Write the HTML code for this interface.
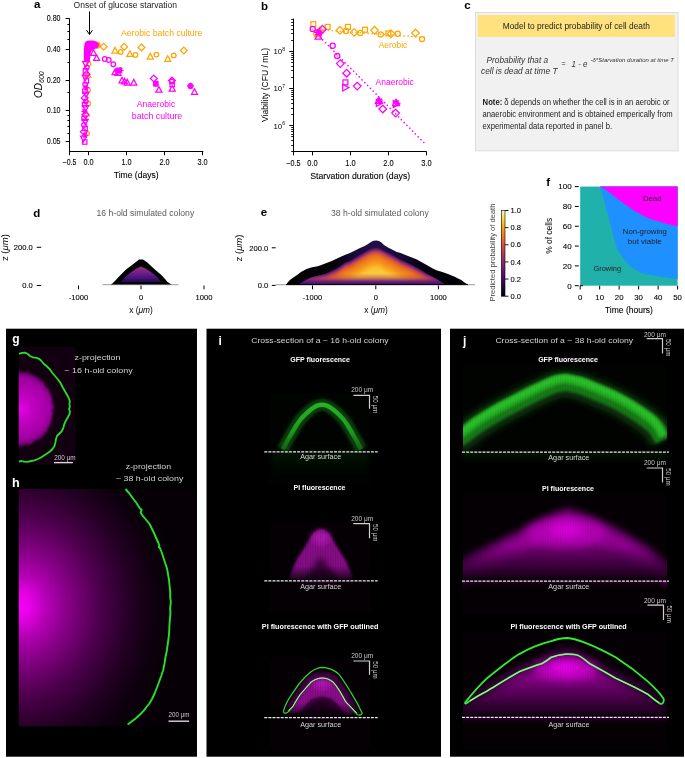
<!DOCTYPE html><html><head><meta charset="utf-8"><style>html,body{margin:0;padding:0;background:#fff;}body{width:685px;height:758px;overflow:hidden;position:relative;}svg{position:absolute;left:0;top:0;display:block;will-change:transform;}text{font-family:"Liberation Sans",sans-serif;}text.k{stroke:#000;stroke-width:0.1px;}</style></head><body>
<svg width="685" height="758" viewBox="0 0 685 758">
<defs>
<linearGradient id="infernoV" x1="0" y1="1" x2="0" y2="0">
<stop offset="0" stop-color="#000004"/><stop offset="0.2" stop-color="#320a5e"/><stop offset="0.4" stop-color="#781c6d"/><stop offset="0.6" stop-color="#bb3754"/><stop offset="0.8" stop-color="#ed6925"/><stop offset="0.9" stop-color="#fbb61a"/><stop offset="1" stop-color="#fcffa4"/>
</linearGradient>
<linearGradient id="dpurp" x1="0" y1="0" x2="0" y2="1">
<stop offset="0" stop-color="#a02c78"/><stop offset="0.2" stop-color="#8c2682"/><stop offset="0.55" stop-color="#5c1888"/><stop offset="0.85" stop-color="#301060"/><stop offset="1" stop-color="#180a34"/>
</linearGradient>
<filter id="blur1" x="-20%" y="-20%" width="140%" height="140%"><feGaussianBlur stdDeviation="1.2"/></filter>
<filter id="blur2" x="-20%" y="-20%" width="140%" height="140%"><feGaussianBlur stdDeviation="2.5"/></filter>
<filter id="blur3" x="-30%" y="-30%" width="160%" height="160%"><feGaussianBlur stdDeviation="4"/></filter>
<filter id="blurE" x="-10%" y="-30%" width="120%" height="160%"><feGaussianBlur stdDeviation="0.9"/></filter>
<filter id="blurS" x="-10%" y="-10%" width="120%" height="120%"><feGaussianBlur stdDeviation="0.5"/></filter>
<radialGradient id="gmag16" cx="0" cy="0.5" r="0.62" fx="0" fy="0.5">
<stop offset="0" stop-color="#ff00ff" stop-opacity="0.95"/><stop offset="0.5" stop-color="#c000c0" stop-opacity="0.75"/><stop offset="0.85" stop-color="#800080" stop-opacity="0.6"/><stop offset="1" stop-color="#400040" stop-opacity="0"/>
</radialGradient>
<radialGradient id="gmag38" gradientUnits="userSpaceOnUse" cx="19" cy="606" r="165">
<stop offset="0" stop-color="#ff00ff"/><stop offset="0.15" stop-color="#c010c0"/><stop offset="0.45" stop-color="#6a0a6a"/><stop offset="0.75" stop-color="#2a002a"/><stop offset="1" stop-color="#0a000a"/>
</radialGradient>
</defs>
<text x="34" y="8.3" font-size="11.5" text-anchor="start" fill="#000" font-weight="bold" font-style="normal">a</text>
<text x="73.6" y="7.6" font-size="8.5" text-anchor="start" fill="#222" font-weight="normal" font-style="normal" textLength="103.4" lengthAdjust="spacingAndGlyphs">Onset of glucose starvation</text>
<line x1="89.5" y1="11.5" x2="89.5" y2="34" stroke="#000" stroke-width="1"/>
<path d="M86.6,30.2L89.5,34.5L92.4,30.2" fill="none" stroke="#000" stroke-width="1"/>
<line x1="69.5" y1="18.4" x2="69.5" y2="152" stroke="#000" stroke-width="1"/>
<line x1="69" y1="151.5" x2="203.3" y2="151.5" stroke="#000" stroke-width="1"/>
<line x1="65.6" y1="18.5" x2="69.5" y2="18.5" stroke="#000" stroke-width="1"/>
<text class="k" x="60.6" y="21.4" font-size="8.4" text-anchor="end" fill="#000" font-weight="normal" font-style="normal" textLength="13.9" lengthAdjust="spacingAndGlyphs">0.80</text>
<line x1="65.6" y1="49.5" x2="69.5" y2="49.5" stroke="#000" stroke-width="1"/>
<text class="k" x="60.6" y="52.4" font-size="8.4" text-anchor="end" fill="#000" font-weight="normal" font-style="normal" textLength="13.9" lengthAdjust="spacingAndGlyphs">0.40</text>
<line x1="65.6" y1="80.5" x2="69.5" y2="80.5" stroke="#000" stroke-width="1"/>
<text class="k" x="60.6" y="83.4" font-size="8.4" text-anchor="end" fill="#000" font-weight="normal" font-style="normal" textLength="13.9" lengthAdjust="spacingAndGlyphs">0.20</text>
<line x1="65.6" y1="110.5" x2="69.5" y2="110.5" stroke="#000" stroke-width="1"/>
<text class="k" x="60.6" y="113.4" font-size="8.4" text-anchor="end" fill="#000" font-weight="normal" font-style="normal" textLength="13.9" lengthAdjust="spacingAndGlyphs">0.10</text>
<line x1="65.6" y1="141.5" x2="69.5" y2="141.5" stroke="#000" stroke-width="1"/>
<text class="k" x="60.6" y="144.4" font-size="8.4" text-anchor="end" fill="#000" font-weight="normal" font-style="normal" textLength="13.9" lengthAdjust="spacingAndGlyphs">0.05</text>
<line x1="67.4" y1="24.5" x2="69.5" y2="24.5" stroke="#000" stroke-width="1"/>
<line x1="67.4" y1="31.5" x2="69.5" y2="31.5" stroke="#000" stroke-width="1"/>
<line x1="67.4" y1="39.5" x2="69.5" y2="39.5" stroke="#000" stroke-width="1"/>
<line x1="67.4" y1="62.5" x2="69.5" y2="62.5" stroke="#000" stroke-width="1"/>
<line x1="67.4" y1="115.5" x2="69.5" y2="115.5" stroke="#000" stroke-width="1"/>
<line x1="67.4" y1="120.5" x2="69.5" y2="120.5" stroke="#000" stroke-width="1"/>
<line x1="67.4" y1="126.5" x2="69.5" y2="126.5" stroke="#000" stroke-width="1"/>
<line x1="67.4" y1="133.5" x2="69.5" y2="133.5" stroke="#000" stroke-width="1"/>
<line x1="67.4" y1="92.5" x2="69.5" y2="92.5" stroke="#000" stroke-width="1"/>
<line x1="69.5" y1="151.5" x2="69.5" y2="155.2" stroke="#000" stroke-width="1"/>
<text class="k" x="69.5" y="165.4" font-size="8.4" text-anchor="middle" fill="#000" font-weight="normal" font-style="normal" textLength="13.7" lengthAdjust="spacingAndGlyphs">−0.5</text>
<line x1="88.5" y1="151.5" x2="88.5" y2="155.2" stroke="#000" stroke-width="1"/>
<text class="k" x="88.5" y="165.4" font-size="8.4" text-anchor="middle" fill="#000" font-weight="normal" font-style="normal" textLength="10.2" lengthAdjust="spacingAndGlyphs">0.0</text>
<line x1="126.5" y1="151.5" x2="126.5" y2="155.2" stroke="#000" stroke-width="1"/>
<text class="k" x="126.5" y="165.4" font-size="8.4" text-anchor="middle" fill="#000" font-weight="normal" font-style="normal" textLength="10.2" lengthAdjust="spacingAndGlyphs">1.0</text>
<line x1="164.5" y1="151.5" x2="164.5" y2="155.2" stroke="#000" stroke-width="1"/>
<text class="k" x="164.5" y="165.4" font-size="8.4" text-anchor="middle" fill="#000" font-weight="normal" font-style="normal" textLength="10.2" lengthAdjust="spacingAndGlyphs">2.0</text>
<line x1="202.5" y1="151.5" x2="202.5" y2="155.2" stroke="#000" stroke-width="1"/>
<text class="k" x="202.5" y="165.4" font-size="8.4" text-anchor="middle" fill="#000" font-weight="normal" font-style="normal" textLength="10.2" lengthAdjust="spacingAndGlyphs">3.0</text>
<text class="k" x="136.2" y="177.9" font-size="8.4" text-anchor="middle" fill="#000" font-weight="normal" font-style="normal" textLength="44.9" lengthAdjust="spacingAndGlyphs">Time (days)</text>
<text transform="translate(41.5,98) rotate(-90)" font-size="10" font-style="italic" fill="#000">OD<tspan font-size="7" dy="2.5">600</tspan></text>
<text x="121" y="36.4" font-size="8.5" text-anchor="start" fill="#ffa500" font-weight="normal" font-style="normal" textLength="81.4" lengthAdjust="spacingAndGlyphs">Aerobic batch culture</text>
<text x="156" y="107" font-size="8.5" text-anchor="middle" fill="#ff00ff" font-weight="normal" font-style="normal" textLength="38.6" lengthAdjust="spacingAndGlyphs">Anaerobic</text>
<text x="157" y="118.6" font-size="8.5" text-anchor="middle" fill="#ff00ff" font-weight="normal" font-style="normal" textLength="50.5" lengthAdjust="spacingAndGlyphs">batch culture</text>
<path d="M103.7,43.40L107.10,46.8L103.7,50.20L100.30,46.8Z" fill="none" stroke="#ffa500" stroke-width="1.25"/>
<path d="M115,47.40L118.00,53.00L112.00,53.00Z" fill="none" stroke="#ffa500" stroke-width="1.25"/>
<circle cx="120.7" cy="51.9" r="2.30" fill="none" stroke="#ffa500" stroke-width="1.25"/>
<path d="M124.2,43.40L127.60,46.8L124.2,50.20L120.80,46.8Z" fill="none" stroke="#ffa500" stroke-width="1.25"/>
<path d="M129.9,50.80L132.90,56.40L126.90,56.40Z" fill="none" stroke="#ffa500" stroke-width="1.25"/>
<circle cx="135.4" cy="55" r="2.30" fill="none" stroke="#ffa500" stroke-width="1.25"/>
<path d="M141.5,44.00L144.90,47.4L141.5,50.80L138.10,47.4Z" fill="none" stroke="#ffa500" stroke-width="1.25"/>
<path d="M150.3,53.40L153.30,59.00L147.30,59.00Z" fill="none" stroke="#ffa500" stroke-width="1.25"/>
<circle cx="156.4" cy="54.6" r="2.30" fill="none" stroke="#ffa500" stroke-width="1.25"/>
<path d="M167.7,55.80L170.70,61.40L164.70,61.40Z" fill="none" stroke="#ffa500" stroke-width="1.25"/>
<circle cx="173.8" cy="55.4" r="2.30" fill="none" stroke="#ffa500" stroke-width="1.25"/>
<path d="M183.8,47.10L187.20,50.5L183.8,53.90L180.40,50.5Z" fill="none" stroke="#ffa500" stroke-width="1.25"/>
<circle cx="94.5" cy="43.7" r="2.30" fill="none" stroke="#ffa500" stroke-width="1.25"/>
<circle cx="97.6" cy="45.8" r="2.30" fill="none" stroke="#ffa500" stroke-width="1.25"/>
<path d="M92,41.60L95.40,45L92,48.40L88.60,45Z" fill="none" stroke="#ffa500" stroke-width="1.25"/>
<circle cx="88.5" cy="64" r="2.30" fill="none" stroke="#ffa500" stroke-width="1.25"/>
<path d="M87.8,71.80L90.80,77.40L84.80,77.40Z" fill="none" stroke="#ffa500" stroke-width="1.25"/>
<circle cx="88" cy="90" r="2.30" fill="none" stroke="#ffa500" stroke-width="1.25"/>
<circle cx="88.2" cy="103.5" r="2.30" fill="none" stroke="#ffa500" stroke-width="1.25"/>
<path d="M86.3,110.20L89.30,115.80L83.30,115.80Z" fill="none" stroke="#ffa500" stroke-width="1.25"/>
<circle cx="87" cy="133.5" r="2.30" fill="none" stroke="#ffa500" stroke-width="1.25"/>
<path d="M89,46.60L92.40,50L89,53.40L85.60,50Z" fill="none" stroke="#ffa500" stroke-width="1.25"/>
<circle cx="93" cy="43.5" r="2.30" fill="none" stroke="#ffa500" stroke-width="1.25"/>
<circle cx="97.5" cy="44.5" r="2.30" fill="none" stroke="#ffa500" stroke-width="1.25"/>
<path d="M93.5,49.70L96.50,55.30L90.50,55.30Z" fill="none" stroke="#ff00ff" stroke-width="1.25"/>
<path d="M96.6,54.80L99.60,60.40L93.60,60.40Z" fill="none" stroke="#ff00ff" stroke-width="1.25"/>
<circle cx="104.7" cy="59" r="2.30" fill="none" stroke="#ff00ff" stroke-width="1.25"/>
<circle cx="108.8" cy="60" r="2.30" fill="none" stroke="#ff00ff" stroke-width="1.25"/>
<circle cx="113.3" cy="64.2" r="2.30" fill="none" stroke="#ff00ff" stroke-width="1.25"/>
<path d="M115,69.10L118.00,74.70L112.00,74.70Z" fill="none" stroke="#ff00ff" stroke-width="1.25"/>
<rect x="116.80" y="68.10" width="4.40" height="4.40" fill="none" stroke="#ff00ff" stroke-width="1.25"/>
<path d="M117.50,70.3L123.50,70.3M118.70,67.90L122.30,72.70M118.70,72.70L122.30,67.90M120.5,67.30L120.5,73.30" fill="none" stroke="#ff00ff" stroke-width="1.25"/>
<path d="M118,69.80L121.00,75.40L115.00,75.40Z" fill="none" stroke="#ff00ff" stroke-width="1.25"/>
<path d="M114.00,71L120.00,71M115.20,68.60L118.80,73.40M115.20,73.40L118.80,68.60M117,68.00L117,74.00" fill="none" stroke="#ff00ff" stroke-width="1.25"/>
<path d="M122,77.30L125.00,82.90L119.00,82.90Z" fill="none" stroke="#ff00ff" stroke-width="1.25"/>
<path d="M124.5,78.30L127.50,83.90L121.50,83.90Z" fill="none" stroke="#ff00ff" stroke-width="1.25"/>
<path d="M127.2,79.40L130.20,85.00L124.20,85.00Z" fill="none" stroke="#ff00ff" stroke-width="1.25"/>
<path d="M133.8,79.40L136.80,85.00L130.80,85.00Z" fill="none" stroke="#ff00ff" stroke-width="1.25"/>
<path d="M153.8,75.10L157.20,78.5L153.8,81.90L150.40,78.5Z" fill="none" stroke="#ff00ff" stroke-width="1.25"/>
<rect x="153.60" y="81.40" width="4.40" height="4.40" fill="none" stroke="#ff00ff" stroke-width="1.25"/>
<path d="M152.80,84L158.80,84M154.00,81.60L157.60,86.40M154.00,86.40L157.60,81.60M155.8,81.00L155.8,87.00" fill="none" stroke="#ff00ff" stroke-width="1.25"/>
<path d="M158.9,86.50L161.90,92.10L155.90,92.10Z" fill="none" stroke="#ff00ff" stroke-width="1.25"/>
<polygon points="171.80,78.80 174.37,80.67 173.39,83.68 170.21,83.68 169.23,80.67" fill="none" stroke="#ff00ff" stroke-width="1.25"/>
<path d="M172,77.10L175.40,80.5L172,83.90L168.60,80.5Z" fill="none" stroke="#ff00ff" stroke-width="1.25"/>
<rect x="170.00" y="82.40" width="4.40" height="4.40" fill="none" stroke="#ff00ff" stroke-width="1.25"/>
<path d="M172.2,85.50L175.20,91.10L169.20,91.10Z" fill="none" stroke="#ff00ff" stroke-width="1.25"/>
<path d="M187.50,86L193.50,86M188.70,83.60L192.30,88.40M188.70,88.40L192.30,83.60M190.5,83.00L190.5,89.00" fill="none" stroke="#ff00ff" stroke-width="1.25"/>
<polygon points="190.50,83.30 193.07,85.17 192.09,88.18 188.91,88.18 187.93,85.17" fill="none" stroke="#ff00ff" stroke-width="1.25"/>
<path d="M194.5,88.70L197.50,94.30L191.50,94.30Z" fill="none" stroke="#ff00ff" stroke-width="1.25"/>
<rect x="82.50" y="139.80" width="4.40" height="4.40" fill="none" stroke="#ff00ff" stroke-width="1.25"/>
<path d="M83.59,141.81L86.59,136.21L80.59,136.21Z" fill="none" stroke="#ff00ff" stroke-width="1.25"/>
<path d="M81.89,135.22L87.89,135.22M83.09,132.82L86.69,137.62M83.09,137.62L86.69,132.82M84.89,132.22L84.89,138.22" fill="none" stroke="#ff00ff" stroke-width="1.25"/>
<path d="M83.78,128.43L87.18,131.83L83.78,135.23L80.38,131.83Z" fill="none" stroke="#ff00ff" stroke-width="1.25"/>
<rect x="82.88" y="126.23" width="4.40" height="4.40" fill="none" stroke="#ff00ff" stroke-width="1.25"/>
<circle cx="83.97" cy="125.04" r="2.30" fill="none" stroke="#ff00ff" stroke-width="1.25"/>
<path d="M85.27,124.85L88.27,119.25L82.27,119.25Z" fill="none" stroke="#ff00ff" stroke-width="1.25"/>
<rect x="81.96" y="116.06" width="4.40" height="4.40" fill="none" stroke="#ff00ff" stroke-width="1.25"/>
<path d="M85.46,111.47L88.86,114.87L85.46,118.27L82.06,114.87Z" fill="none" stroke="#ff00ff" stroke-width="1.25"/>
<path d="M81.35,111.48L87.35,111.48M82.55,109.08L86.15,113.88M82.55,113.88L86.15,109.08M84.35,108.48L84.35,114.48" fill="none" stroke="#ff00ff" stroke-width="1.25"/>
<path d="M85.65,111.29L88.65,105.69L82.65,105.69Z" fill="none" stroke="#ff00ff" stroke-width="1.25"/>
<rect x="82.34" y="102.50" width="4.40" height="4.40" fill="none" stroke="#ff00ff" stroke-width="1.25"/>
<circle cx="85.84" cy="101.3" r="2.30" fill="none" stroke="#ff00ff" stroke-width="1.25"/>
<path d="M84.73,94.51L88.13,97.91L84.73,101.31L81.33,97.91Z" fill="none" stroke="#ff00ff" stroke-width="1.25"/>
<path d="M86.03,97.72L89.03,92.12L83.03,92.12Z" fill="none" stroke="#ff00ff" stroke-width="1.25"/>
<rect x="82.72" y="88.93" width="4.40" height="4.40" fill="none" stroke="#ff00ff" stroke-width="1.25"/>
<path d="M83.22,87.74L89.22,87.74M84.42,85.34L88.02,90.14M84.42,90.14L88.02,85.34M86.22,84.74L86.22,90.74" fill="none" stroke="#ff00ff" stroke-width="1.25"/>
<circle cx="85.11" cy="84.35" r="2.30" fill="none" stroke="#ff00ff" stroke-width="1.25"/>
<rect x="84.21" y="78.76" width="4.40" height="4.40" fill="none" stroke="#ff00ff" stroke-width="1.25"/>
<path d="M85.3,80.77L88.30,75.17L82.30,75.17Z" fill="none" stroke="#ff00ff" stroke-width="1.25"/>
<path d="M86.6,70.77L90.00,74.17L86.6,77.57L83.20,74.17Z" fill="none" stroke="#ff00ff" stroke-width="1.25"/>
<rect x="83.29" y="68.58" width="4.40" height="4.40" fill="none" stroke="#ff00ff" stroke-width="1.25"/>
<circle cx="86.79" cy="67.39" r="2.30" fill="none" stroke="#ff00ff" stroke-width="1.25"/>
<path d="M85.68,67.20L88.68,61.60L82.68,61.60Z" fill="none" stroke="#ff00ff" stroke-width="1.25"/>
<path d="M84,62 C83.6,56 83.7,50 84.3,45 C84.6,41.5 87,40.2 90,40.6 C93,40.3 96.5,41.2 98.6,43.5 C99.6,45.5 98.5,48 95.5,48.8 C93,49.2 91.2,50 90.6,53 C90.3,56 90.2,59 89.8,62 Z" fill="#ff00ff"/>
<text x="261" y="10" font-size="11.5" text-anchor="start" fill="#000" font-weight="bold" font-style="normal">b</text>
<line x1="293.5" y1="18.6" x2="293.5" y2="152" stroke="#000" stroke-width="1"/>
<line x1="293" y1="151.5" x2="426.6" y2="151.5" stroke="#000" stroke-width="1"/>
<line x1="289.3" y1="51.5" x2="293.5" y2="51.5" stroke="#000" stroke-width="1"/>
<line x1="289.3" y1="88.5" x2="293.5" y2="88.5" stroke="#000" stroke-width="1"/>
<line x1="289.3" y1="125.5" x2="293.5" y2="125.5" stroke="#000" stroke-width="1"/>
<line x1="291.2" y1="151.5" x2="293.5" y2="151.5" stroke="#000" stroke-width="0.9"/>
<line x1="291.2" y1="145.5" x2="293.5" y2="145.5" stroke="#000" stroke-width="0.9"/>
<line x1="291.2" y1="140.5" x2="293.5" y2="140.5" stroke="#000" stroke-width="0.9"/>
<line x1="291.2" y1="136.5" x2="293.5" y2="136.5" stroke="#000" stroke-width="0.9"/>
<line x1="291.2" y1="134.5" x2="293.5" y2="134.5" stroke="#000" stroke-width="0.9"/>
<line x1="291.2" y1="131.5" x2="293.5" y2="131.5" stroke="#000" stroke-width="0.9"/>
<line x1="291.2" y1="129.5" x2="293.5" y2="129.5" stroke="#000" stroke-width="0.9"/>
<line x1="291.2" y1="127.5" x2="293.5" y2="127.5" stroke="#000" stroke-width="0.9"/>
<line x1="291.2" y1="114.5" x2="293.5" y2="114.5" stroke="#000" stroke-width="0.9"/>
<line x1="291.2" y1="108.5" x2="293.5" y2="108.5" stroke="#000" stroke-width="0.9"/>
<line x1="291.2" y1="103.5" x2="293.5" y2="103.5" stroke="#000" stroke-width="0.9"/>
<line x1="291.2" y1="99.5" x2="293.5" y2="99.5" stroke="#000" stroke-width="0.9"/>
<line x1="291.2" y1="96.5" x2="293.5" y2="96.5" stroke="#000" stroke-width="0.9"/>
<line x1="291.2" y1="94.5" x2="293.5" y2="94.5" stroke="#000" stroke-width="0.9"/>
<line x1="291.2" y1="92.5" x2="293.5" y2="92.5" stroke="#000" stroke-width="0.9"/>
<line x1="291.2" y1="90.5" x2="293.5" y2="90.5" stroke="#000" stroke-width="0.9"/>
<line x1="291.2" y1="77.5" x2="293.5" y2="77.5" stroke="#000" stroke-width="0.9"/>
<line x1="291.2" y1="70.5" x2="293.5" y2="70.5" stroke="#000" stroke-width="0.9"/>
<line x1="291.2" y1="66.5" x2="293.5" y2="66.5" stroke="#000" stroke-width="0.9"/>
<line x1="291.2" y1="62.5" x2="293.5" y2="62.5" stroke="#000" stroke-width="0.9"/>
<line x1="291.2" y1="59.5" x2="293.5" y2="59.5" stroke="#000" stroke-width="0.9"/>
<line x1="291.2" y1="57.5" x2="293.5" y2="57.5" stroke="#000" stroke-width="0.9"/>
<line x1="291.2" y1="55.5" x2="293.5" y2="55.5" stroke="#000" stroke-width="0.9"/>
<line x1="291.2" y1="53.5" x2="293.5" y2="53.5" stroke="#000" stroke-width="0.9"/>
<line x1="291.2" y1="40.5" x2="293.5" y2="40.5" stroke="#000" stroke-width="0.9"/>
<line x1="291.2" y1="33.5" x2="293.5" y2="33.5" stroke="#000" stroke-width="0.9"/>
<line x1="291.2" y1="29.5" x2="293.5" y2="29.5" stroke="#000" stroke-width="0.9"/>
<line x1="291.2" y1="25.5" x2="293.5" y2="25.5" stroke="#000" stroke-width="0.9"/>
<line x1="291.2" y1="22.5" x2="293.5" y2="22.5" stroke="#000" stroke-width="0.9"/>
<line x1="291.2" y1="19.5" x2="293.5" y2="19.5" stroke="#000" stroke-width="0.9"/>
<text x="285" y="54.199999999999996" font-size="7.8" text-anchor="end">10<tspan font-size="5" dy="-3.2">8</tspan></text>
<text x="285" y="91.39999999999999" font-size="7.8" text-anchor="end">10<tspan font-size="5" dy="-3.2">7</tspan></text>
<text x="285" y="128.6" font-size="7.8" text-anchor="end">10<tspan font-size="5" dy="-3.2">6</tspan></text>
<line x1="293.5" y1="151.5" x2="293.5" y2="155.4" stroke="#000" stroke-width="1"/>
<text class="k" x="293.5" y="166" font-size="8.4" text-anchor="middle" fill="#000" font-weight="normal" font-style="normal" textLength="14.2" lengthAdjust="spacingAndGlyphs">−0.5</text>
<line x1="312.5" y1="151.5" x2="312.5" y2="155.4" stroke="#000" stroke-width="1"/>
<text class="k" x="312.5" y="166" font-size="8.4" text-anchor="middle" fill="#000" font-weight="normal" font-style="normal" textLength="10.4" lengthAdjust="spacingAndGlyphs">0.0</text>
<line x1="350.5" y1="151.5" x2="350.5" y2="155.4" stroke="#000" stroke-width="1"/>
<text class="k" x="350.5" y="166" font-size="8.4" text-anchor="middle" fill="#000" font-weight="normal" font-style="normal" textLength="10.4" lengthAdjust="spacingAndGlyphs">1.0</text>
<line x1="388.5" y1="151.5" x2="388.5" y2="155.4" stroke="#000" stroke-width="1"/>
<text class="k" x="388.5" y="166" font-size="8.4" text-anchor="middle" fill="#000" font-weight="normal" font-style="normal" textLength="10.4" lengthAdjust="spacingAndGlyphs">2.0</text>
<line x1="426.5" y1="151.5" x2="426.5" y2="155.4" stroke="#000" stroke-width="1"/>
<text class="k" x="426.5" y="166" font-size="8.4" text-anchor="middle" fill="#000" font-weight="normal" font-style="normal" textLength="10.4" lengthAdjust="spacingAndGlyphs">3.0</text>
<text class="k" x="360.2" y="178.5" font-size="8.4" text-anchor="middle" fill="#000" font-weight="normal" font-style="normal" textLength="100" lengthAdjust="spacingAndGlyphs">Starvation duration (days)</text>
<text transform="translate(267.8,122) rotate(-90)" font-size="8.4" fill="#000" textLength="74" lengthAdjust="spacingAndGlyphs">Viability (CFU / mL)</text>
<path d="M312.3,29.3L426.7,37.5" stroke="#ffa500" stroke-width="1.6" stroke-dasharray="0.1 3.9" stroke-linecap="round" fill="none"/>
<path d="M314.3,31.3L425.1,143.8" stroke="#ff00ff" stroke-width="1.6" stroke-dasharray="0.1 3.9" stroke-linecap="round" fill="none"/>
<rect x="310.84" y="21.74" width="4.93" height="4.93" fill="none" stroke="#ffa500" stroke-width="1.25"/>
<rect x="325.14" y="24.44" width="4.93" height="4.93" fill="none" stroke="#ffa500" stroke-width="1.25"/>
<path d="M339.9,26.49L343.71,30.3L339.9,34.11L336.09,30.3Z" fill="none" stroke="#ffa500" stroke-width="1.25"/>
<rect x="345.54" y="24.44" width="4.93" height="4.93" fill="none" stroke="#ffa500" stroke-width="1.25"/>
<circle cx="346" cy="31" r="2.58" fill="none" stroke="#ffa500" stroke-width="1.25"/>
<path d="M354.2,28.59L358.01,32.4L354.2,36.21L350.39,32.4Z" fill="none" stroke="#ffa500" stroke-width="1.25"/>
<circle cx="360.3" cy="33" r="2.58" fill="none" stroke="#ffa500" stroke-width="1.25"/>
<rect x="362.54" y="27.24" width="4.93" height="4.93" fill="none" stroke="#ffa500" stroke-width="1.25"/>
<path d="M374.6,26.49L378.41,30.3L374.6,34.11L370.79,30.3Z" fill="none" stroke="#ffa500" stroke-width="1.25"/>
<circle cx="380.7" cy="34.4" r="2.58" fill="none" stroke="#ffa500" stroke-width="1.25"/>
<rect x="385.84" y="30.94" width="4.93" height="4.93" fill="none" stroke="#ffa500" stroke-width="1.25"/>
<path d="M391,29.99L394.81,33.8L391,37.61L387.19,33.8Z" fill="none" stroke="#ffa500" stroke-width="1.25"/>
<circle cx="397.7" cy="33.8" r="2.58" fill="none" stroke="#ffa500" stroke-width="1.25"/>
<path d="M415.5,29.19L419.31,33L415.5,36.81L411.69,33Z" fill="none" stroke="#ffa500" stroke-width="1.25"/>
<circle cx="422" cy="39.1" r="2.58" fill="none" stroke="#ffa500" stroke-width="1.25"/>
<circle cx="316" cy="33" r="2.58" fill="none" stroke="#ffa500" stroke-width="1.25"/>
<path d="M318,30.42L321.36,36.69L314.64,36.69Z" fill="none" stroke="#ffa500" stroke-width="1.25"/>
<path d="M320,27.19L323.81,31L320,34.81L316.19,31Z" fill="none" stroke="#ffa500" stroke-width="1.25"/>
<text x="378.7" y="47.6" font-size="8.5" text-anchor="start" fill="#ffa500" font-weight="normal" font-style="normal" textLength="28.6" lengthAdjust="spacingAndGlyphs">Aerobic</text>
<circle cx="312.7" cy="28.9" r="2.58" fill="none" stroke="#ff00ff" stroke-width="1.25"/>
<path d="M322.5,25.49L326.31,29.3L322.5,33.11L318.69,29.3Z" fill="none" stroke="#ff00ff" stroke-width="1.25"/>
<path d="M314.04,32.4L320.76,32.4M315.38,29.71L319.42,35.09M315.38,35.09L319.42,29.71M317.4,29.04L317.4,35.76" fill="none" stroke="#ff00ff" stroke-width="1.25"/>
<path d="M318.4,32.92L321.76,39.19L315.04,39.19Z" fill="none" stroke="#ff00ff" stroke-width="1.25"/>
<path d="M316.64,33L323.36,33M317.98,30.31L322.02,35.69M317.98,35.69L322.02,30.31M320,29.64L320,36.36" fill="none" stroke="#ff00ff" stroke-width="1.25"/>
<circle cx="332.7" cy="45.7" r="2.58" fill="none" stroke="#ff00ff" stroke-width="1.25"/>
<circle cx="337.2" cy="55.9" r="2.58" fill="none" stroke="#ff00ff" stroke-width="1.25"/>
<path d="M340.3,59.79L344.11,63.6L340.3,67.41L336.49,63.6Z" fill="none" stroke="#ff00ff" stroke-width="1.25"/>
<path d="M346.6,69.39L350.41,73.2L346.6,77.01L342.79,73.2Z" fill="none" stroke="#ff00ff" stroke-width="1.25"/>
<rect x="342.94" y="79.94" width="4.93" height="4.93" fill="none" stroke="#ff00ff" stroke-width="1.25"/>
<path d="M348.98,87.6L342.71,84.24L342.71,90.96Z" fill="none" stroke="#ff00ff" stroke-width="1.25"/>
<path d="M357.2,82.29L361.01,86.1L357.2,89.91L353.39,86.1Z" fill="none" stroke="#ff00ff" stroke-width="1.25"/>
<path d="M378.7,97.22L382.06,103.49L375.34,103.49Z" fill="none" stroke="#ff00ff" stroke-width="1.25"/>
<path d="M376.14,101L382.86,101M377.48,98.31L381.52,103.69M377.48,103.69L381.52,98.31M379.5,97.64L379.5,104.36" fill="none" stroke="#ff00ff" stroke-width="1.25"/>
<path d="M382.58,103L376.31,99.64L376.31,106.36Z" fill="none" stroke="#ff00ff" stroke-width="1.25"/>
<path d="M382.8,105.19L386.61,109L382.8,112.81L378.99,109Z" fill="none" stroke="#ff00ff" stroke-width="1.25"/>
<path d="M396,99.32L399.36,105.59L392.64,105.59Z" fill="none" stroke="#ff00ff" stroke-width="1.25"/>
<path d="M393.64,103L400.36,103M394.98,100.31L399.02,105.69M394.98,105.69L399.02,100.31M397,99.64L397,106.36" fill="none" stroke="#ff00ff" stroke-width="1.25"/>
<path d="M399.58,104L393.31,100.64L393.31,107.36Z" fill="none" stroke="#ff00ff" stroke-width="1.25"/>
<path d="M395.6,109.29L399.41,113.1L395.6,116.91L391.79,113.1Z" fill="none" stroke="#ff00ff" stroke-width="1.25"/>
<circle cx="337.2" cy="55.9" r="0.6" fill="#ff00ff"/>
<text x="375.6" y="85" font-size="8.5" text-anchor="start" fill="#ff00ff" font-weight="normal" font-style="normal" textLength="38.2" lengthAdjust="spacingAndGlyphs">Anaerobic</text>
<text x="464.3" y="9" font-size="11.5" text-anchor="start" fill="#000" font-weight="bold" font-style="normal">c</text>
<rect x="475.5" y="12.5" width="202.5" height="138.3" fill="#f1f1f1" stroke="#dcdcdc" stroke-width="1"/>
<rect x="477.8" y="15" width="197.1" height="21.9" fill="#ffe27e"/>
<text x="576.3" y="29" font-size="8.3" text-anchor="middle" fill="#222" font-weight="normal" font-style="normal" textLength="147.2" lengthAdjust="spacingAndGlyphs">Model to predict probability of cell death</text>
<text x="486.6" y="62.5" font-size="8.2" text-anchor="start" fill="#333" font-weight="normal" font-style="italic" textLength="61.5" lengthAdjust="spacingAndGlyphs">Probability that a</text>
<text x="481" y="73.7" font-size="8.2" text-anchor="start" fill="#333" font-weight="normal" font-style="italic" textLength="76.5" lengthAdjust="spacingAndGlyphs">cell  is dead at time T</text>
<text x="561.5" y="66" font-size="7" text-anchor="start" fill="#333" font-weight="normal" font-style="normal">=</text>
<text x="571.5" y="67" font-size="8.2" text-anchor="start" fill="#333" font-weight="normal" font-style="italic" textLength="16" lengthAdjust="spacingAndGlyphs">1 - e</text>
<text x="590.5" y="61.5" font-size="5" text-anchor="start" fill="#333" font-weight="normal" font-style="italic" textLength="83.5" lengthAdjust="spacingAndGlyphs">-δ*Starvation duration at time T</text>
<text x="482.6" y="105.2" font-size="8.2" fill="#222" textLength="187" lengthAdjust="spacingAndGlyphs"><tspan font-weight="bold">Note:</tspan> δ depends on whether the cell is in an aerobic or</text>
<text x="482.6" y="117.3" font-size="8.2" text-anchor="start" fill="#222" font-weight="normal" font-style="normal" textLength="190" lengthAdjust="spacingAndGlyphs">anaerobic environment and is obtained emperically from</text>
<text x="482.6" y="129.4" font-size="8.2" text-anchor="start" fill="#222" font-weight="normal" font-style="normal" textLength="129.5" lengthAdjust="spacingAndGlyphs">experimental data reported in panel b.</text>
<text x="33.3" y="216.6" font-size="11.5" text-anchor="start" fill="#000" font-weight="bold" font-style="normal">d</text>
<text x="96.5" y="215.6" font-size="8.5" text-anchor="start" fill="#5a5a5a" font-weight="normal" font-style="normal" textLength="97.7" lengthAdjust="spacingAndGlyphs">16 h-old simulated colony</text>
<line x1="36.8" y1="247.3" x2="41.2" y2="247.3" stroke="#000" stroke-width="1"/>
<text class="k" x="32.8" y="250.0" font-size="7.6" text-anchor="end" fill="#000" font-weight="normal" font-style="normal">200.0</text>
<line x1="36.8" y1="285.5" x2="41.2" y2="285.5" stroke="#000" stroke-width="1"/>
<text class="k" x="32.8" y="288.2" font-size="7.6" text-anchor="end" fill="#000" font-weight="normal" font-style="normal">0.0</text>
<text transform="translate(7.6,247.6) rotate(-90)" font-size="8.8" fill="#000" text-anchor="middle" textLength="27" lengthAdjust="spacingAndGlyphs">z (<tspan font-style="italic">μm</tspan>)</text>
<line x1="102.5" y1="284.6" x2="178.5" y2="284.6" stroke="#b0b0b0" stroke-width="1.3"/>
<line x1="78.5" y1="285.5" x2="78.5" y2="289.3" stroke="#000" stroke-width="1"/>
<text class="k" x="78.5" y="299.6" font-size="7.6" text-anchor="middle" fill="#000" font-weight="normal" font-style="normal">-1000</text>
<line x1="141" y1="285.5" x2="141" y2="289.3" stroke="#000" stroke-width="1"/>
<text class="k" x="141" y="299.6" font-size="7.6" text-anchor="middle" fill="#000" font-weight="normal" font-style="normal">0</text>
<line x1="204" y1="285.5" x2="204" y2="289.3" stroke="#000" stroke-width="1"/>
<text class="k" x="204" y="299.6" font-size="7.6" text-anchor="middle" fill="#000" font-weight="normal" font-style="normal">1000</text>
<text x="141" y="313" font-size="8.4" text-anchor="middle" fill="#000">x (<tspan font-style="italic">μm</tspan>)</text>
<path d="M110.8,284.6 L113,283 L118.6,277 L126,269.5 L132,265 L136.6,261.5 L139,259.6 L143,259.6 L147.1,262.2 L152.1,267 L156,270.5 L160.8,274.5 L165,279 L167.6,282 L171.5,284.6Z" fill="#000"/>
<path d="M119.8,282.6 L124,278.5 L128.5,274.3 L133,270.8 L137,268.3 L141,266.6 L145,268.3 L149.5,271 L154,274.3 L158,278 L162,282.6Z" fill="url(#dpurp)" filter="url(#blurS)"/>
<text x="260.7" y="216.3" font-size="11.5" text-anchor="start" fill="#000" font-weight="bold" font-style="normal">e</text>
<text x="331" y="215.6" font-size="8.5" text-anchor="start" fill="#5a5a5a" font-weight="normal" font-style="normal" textLength="97.7" lengthAdjust="spacingAndGlyphs">38 h-old simulated colony</text>
<line x1="271.8" y1="247.8" x2="275.7" y2="247.8" stroke="#000" stroke-width="1"/>
<text class="k" x="268.3" y="250.5" font-size="7.6" text-anchor="end" fill="#000" font-weight="normal" font-style="normal">200.0</text>
<line x1="271.8" y1="285.4" x2="275.7" y2="285.4" stroke="#000" stroke-width="1"/>
<text class="k" x="268.3" y="288.09999999999997" font-size="7.6" text-anchor="end" fill="#000" font-weight="normal" font-style="normal">0.0</text>
<text transform="translate(241.6,248) rotate(-90)" font-size="8.8" fill="#000" text-anchor="middle" textLength="27" lengthAdjust="spacingAndGlyphs">z (<tspan font-style="italic">μm</tspan>)</text>
<line x1="275.7" y1="284.7" x2="475" y2="284.7" stroke="#b0b0b0" stroke-width="1.3"/>
<line x1="312.5" y1="285.5" x2="312.5" y2="289.3" stroke="#000" stroke-width="1"/>
<text class="k" x="312.5" y="299.6" font-size="7.6" text-anchor="middle" fill="#000" font-weight="normal" font-style="normal">-1000</text>
<line x1="375.8" y1="285.5" x2="375.8" y2="289.3" stroke="#000" stroke-width="1"/>
<text class="k" x="375.8" y="299.6" font-size="7.6" text-anchor="middle" fill="#000" font-weight="normal" font-style="normal">0</text>
<line x1="438.4" y1="285.5" x2="438.4" y2="289.3" stroke="#000" stroke-width="1"/>
<text class="k" x="438.4" y="299.6" font-size="7.6" text-anchor="middle" fill="#000" font-weight="normal" font-style="normal">1000</text>
<text x="376" y="313" font-size="8.4" text-anchor="middle" fill="#000">x (<tspan font-style="italic">μm</tspan>)</text>
<linearGradient id="eband" gradientUnits="userSpaceOnUse" x1="286" y1="0" x2="468" y2="0"><stop offset="0" stop-color="#000"/><stop offset="0.27" stop-color="#03010a"/><stop offset="0.37" stop-color="#1a0a38"/><stop offset="0.5" stop-color="#221044"/><stop offset="0.63" stop-color="#1a0a38"/><stop offset="0.75" stop-color="#040210"/><stop offset="1" stop-color="#000"/></linearGradient>
<polygon points="286.1,284.7 288.0,282.0 290.5,279.5 293.3,277.6 297.0,275.0 301.0,272.0 306.6,268.9 312.0,267.2 317.8,266.3 324.0,264.0 331.1,261.2 336.0,259.0 341.3,256.6 346.0,254.5 350.0,253.0 355.0,250.5 360.0,248.0 364.7,246.0 368.0,244.0 371.0,242.0 373.5,240.8 376.4,240.4 379.0,241.0 381.5,242.5 384.0,245.0 388.0,247.5 392.0,249.5 396.8,251.9 400.0,252.8 408.0,256.0 416.4,259.2 424.0,263.5 432.8,268.5 437.0,270.5 441.6,271.8 448.0,274.0 454.7,276.8 458.0,278.5 461.3,280.0 464.5,282.5 467.9,284.7" fill="url(#eband)"/>
<clipPath id="ein"><polygon points="298.4,284.7 301.0,283.0 304.0,281.0 310.7,277.6 318.0,275.5 326.0,273.5 331.0,271.0 336.2,268.4 341.0,265.5 345.4,262.3 350.0,260.7 356.0,257.0 362.0,253.5 368.0,250.0 372.0,248.2 376.0,247.6 380.0,248.3 385.0,251.0 392.0,254.5 400.0,259.2 405.0,261.5 411.0,264.2 416.0,267.0 421.9,270.2 427.0,273.5 432.8,276.8 437.0,279.2 441.6,282.2 446.0,284.7"/></clipPath>
<g clip-path="url(#ein)">
<polygon points="298.4,284.7 301.0,283.0 304.0,281.0 310.7,277.6 318.0,275.5 326.0,273.5 331.0,271.0 336.2,268.4 341.0,265.5 345.4,262.3 350.0,260.7 356.0,257.0 362.0,253.5 368.0,250.0 372.0,248.2 376.0,247.6 380.0,248.3 385.0,251.0 392.0,254.5 400.0,259.2 405.0,261.5 411.0,264.2 416.0,267.0 421.9,270.2 427.0,273.5 432.8,276.8 437.0,279.2 441.6,282.2 446.0,284.7" fill="#3a1064"/>
<g filter="url(#blurE)">
<polygon points="298.4,285.7 301.0,284.0 304.0,282.0 310.7,278.6 318.0,276.5 326.0,274.5 331.0,272.0 336.2,269.4 341.0,266.5 345.4,263.3 350.0,261.7 356.0,258.0 362.0,254.5 368.0,251.0 372.0,249.2 376.0,248.6 380.0,249.3 385.0,252.0 392.0,255.5 400.0,260.2 405.0,262.5 411.0,265.2 416.0,268.0 421.9,271.2 427.0,274.5 432.8,277.8 437.0,280.2 441.6,283.2 446.0,285.7 446,300 298,300" fill="#6a1c7c"/>
<polygon points="298.4,287.0 301.0,285.3 304.0,283.3 310.7,279.9 318.0,277.8 326.0,275.8 331.0,273.3 336.2,270.7 341.0,267.8 345.4,264.6 350.0,263.0 356.0,259.3 362.0,255.8 368.0,252.3 372.0,250.5 376.0,249.9 380.0,250.6 385.0,253.3 392.0,256.8 400.0,261.5 405.0,263.8 411.0,266.5 416.0,269.3 421.9,272.5 427.0,275.8 432.8,279.1 437.0,281.5 441.6,284.5 446.0,287.0 446,300 298,300" fill="#a03062"/>
<polygon points="298.4,288.5 301.0,286.8 304.0,284.8 310.7,281.4 318.0,279.3 326.0,277.3 331.0,274.8 336.2,272.2 341.0,269.3 345.4,266.1 350.0,264.5 356.0,260.8 362.0,257.3 368.0,253.8 372.0,252.0 376.0,251.4 380.0,252.1 385.0,254.8 392.0,258.3 400.0,263.0 405.0,265.3 411.0,268.0 416.0,270.8 421.9,274.0 427.0,277.3 432.8,280.6 437.0,283.0 441.6,286.0 446.0,288.5 446,300 298,300" fill="#c8464a"/>
<polygon points="298.4,290.2 301.0,288.5 304.0,286.5 310.7,283.1 318.0,281.0 326.0,279.0 331.0,276.5 336.2,273.9 341.0,271.0 345.4,267.8 350.0,266.2 356.0,262.5 362.0,259.0 368.0,255.5 372.0,253.7 376.0,253.1 380.0,253.8 385.0,256.5 392.0,260.0 400.0,264.7 405.0,267.0 411.0,269.7 416.0,272.5 421.9,275.7 427.0,279.0 432.8,282.3 437.0,284.7 441.6,287.7 446.0,290.2 446,300 298,300" fill="#e0602c"/>
<polygon points="298.4,292.5 301.0,290.8 304.0,288.8 310.7,285.4 318.0,283.3 326.0,281.3 331.0,278.8 336.2,276.2 341.0,273.3 345.4,270.1 350.0,268.5 356.0,264.8 362.0,261.3 368.0,257.8 372.0,256.0 376.0,255.4 380.0,256.1 385.0,258.8 392.0,262.3 400.0,267.0 405.0,269.3 411.0,272.0 416.0,274.8 421.9,278.0 427.0,281.3 432.8,284.6 437.0,287.0 441.6,290.0 446.0,292.5 446,300 298,300" fill="#ee781e"/>
<polygon points="298.4,295.7 301.0,294.0 304.0,292.0 310.7,288.6 318.0,286.5 326.0,284.5 331.0,282.0 336.2,279.4 341.0,276.5 345.4,273.3 350.0,271.7 356.0,268.0 362.0,264.5 368.0,261.0 372.0,259.2 376.0,258.6 380.0,259.3 385.0,262.0 392.0,265.5 400.0,270.2 405.0,272.5 411.0,275.2 416.0,278.0 421.9,281.2 427.0,284.5 432.8,287.8 437.0,290.2 441.6,293.2 446.0,295.7 446,300 298,300" fill="#f38c1a"/>
<polygon points="298.4,299.2 301.0,297.5 304.0,295.5 310.7,292.1 318.0,290.0 326.0,288.0 331.0,285.5 336.2,282.9 341.0,280.0 345.4,276.8 350.0,275.2 356.0,271.5 362.0,268.0 368.0,264.5 372.0,262.7 376.0,262.1 380.0,262.8 385.0,265.5 392.0,269.0 400.0,273.7 405.0,276.0 411.0,278.7 416.0,281.5 421.9,284.7 427.0,288.0 432.8,291.3 437.0,293.7 441.6,296.7 446.0,299.2 446,300 298,300" fill="#f7a21c"/>
<polygon points="298.4,302.2 301.0,300.5 304.0,298.5 310.7,295.1 318.0,293.0 326.0,291.0 331.0,288.5 336.2,285.9 341.0,283.0 345.4,279.8 350.0,278.2 356.0,274.5 362.0,271.0 368.0,267.5 372.0,265.7 376.0,265.1 380.0,265.8 385.0,268.5 392.0,272.0 400.0,276.7 405.0,279.0 411.0,281.7 416.0,284.5 421.9,287.7 427.0,291.0 432.8,294.3 437.0,296.7 441.6,299.7 446.0,302.2 446,300 298,300" fill="#f8b82a"/>
<polygon points="298.4,305.2 301.0,303.5 304.0,301.5 310.7,298.1 318.0,296.0 326.0,294.0 331.0,291.5 336.2,288.9 341.0,286.0 345.4,282.8 350.0,281.2 356.0,277.5 362.0,274.0 368.0,270.5 372.0,268.7 376.0,268.1 380.0,268.8 385.0,271.5 392.0,275.0 400.0,279.7 405.0,282.0 411.0,284.7 416.0,287.5 421.9,290.7 427.0,294.0 432.8,297.3 437.0,299.7 441.6,302.7 446.0,305.2 446,300 298,300" fill="#f9c83c"/>
</g>
<linearGradient id="ebot" x1="0" y1="0" x2="0" y2="1"><stop offset="0" stop-color="#b03a5c" stop-opacity="0"/><stop offset="0.35" stop-color="#b03a5c" stop-opacity="0.45"/><stop offset="0.65" stop-color="#6a1c7c" stop-opacity="0.9"/><stop offset="0.85" stop-color="#4a1470"/><stop offset="1" stop-color="#200a40"/></linearGradient>
<rect x="290" y="273.5" width="165" height="11.5" fill="url(#ebot)"/>
</g>
<line x1="286" y1="284.6" x2="468" y2="284.6" stroke="#000" stroke-width="0.9"/>
<linearGradient id="cbar" x1="0" y1="1" x2="0" y2="0"><stop offset="0" stop-color="#000004"/><stop offset="0.1" stop-color="#160b39"/><stop offset="0.2" stop-color="#420a68"/><stop offset="0.3" stop-color="#6a176e"/><stop offset="0.4" stop-color="#932667"/><stop offset="0.5" stop-color="#bc3754"/><stop offset="0.6" stop-color="#dd513a"/><stop offset="0.7" stop-color="#f37819"/><stop offset="0.8" stop-color="#fca50a"/><stop offset="0.9" stop-color="#f6d746"/><stop offset="1" stop-color="#fcffa4"/></linearGradient>
<rect x="501.3" y="210.5" width="3.7" height="85.7" fill="url(#cbar)" stroke="#000" stroke-width="0.6"/>
<line x1="505" y1="296.2" x2="508.5" y2="296.2" stroke="#000" stroke-width="0.9"/>
<text class="k" x="510.5" y="298.9" font-size="7.6" text-anchor="start" fill="#000" font-weight="normal" font-style="normal">0.0</text>
<line x1="505" y1="279.06" x2="508.5" y2="279.06" stroke="#000" stroke-width="0.9"/>
<text class="k" x="510.5" y="281.76" font-size="7.6" text-anchor="start" fill="#000" font-weight="normal" font-style="normal">0.2</text>
<line x1="505" y1="261.91999999999996" x2="508.5" y2="261.91999999999996" stroke="#000" stroke-width="0.9"/>
<text class="k" x="510.5" y="264.61999999999995" font-size="7.6" text-anchor="start" fill="#000" font-weight="normal" font-style="normal">0.4</text>
<line x1="505" y1="244.77999999999997" x2="508.5" y2="244.77999999999997" stroke="#000" stroke-width="0.9"/>
<text class="k" x="510.5" y="247.47999999999996" font-size="7.6" text-anchor="start" fill="#000" font-weight="normal" font-style="normal">0.6</text>
<line x1="505" y1="227.64" x2="508.5" y2="227.64" stroke="#000" stroke-width="0.9"/>
<text class="k" x="510.5" y="230.33999999999997" font-size="7.6" text-anchor="start" fill="#000" font-weight="normal" font-style="normal">0.8</text>
<line x1="505" y1="210.5" x2="508.5" y2="210.5" stroke="#000" stroke-width="0.9"/>
<text class="k" x="510.5" y="213.2" font-size="7.6" text-anchor="start" fill="#000" font-weight="normal" font-style="normal">1.0</text>
<text transform="translate(495,301.6) rotate(-90)" font-size="7.4" fill="#444" textLength="98" lengthAdjust="spacingAndGlyphs">Predicted probability of death</text>
<text x="546.2" y="186.2" font-size="11.5" text-anchor="start" fill="#000" font-weight="bold" font-style="normal">f</text>
<rect x="580.2" y="186.6" width="97.4" height="99.1" fill="#20b2aa"/>
<polygon points="599.68,186.60 602.60,194.53 605.52,206.42 609.42,220.29 613.32,236.15 617.21,249.03 623.06,257.95 628.90,264.89 634.74,269.84 640.59,272.82 648.38,274.80 658.12,276.29 667.86,277.77 677.60,279.26 677.60,285.70" fill="none"/>
<polygon points="599.68,186.60 599.68,186.60 602.60,194.53 605.52,206.42 609.42,220.29 613.32,236.15 617.21,249.03 623.06,257.95 628.90,264.89 634.74,269.84 640.59,272.82 648.38,274.80 658.12,276.29 667.86,277.77 677.60,279.26 677.60,186.60" fill="#1e90ff"/>
<polygon points="599.68,186.60 599.68,186.60 605.52,189.57 611.37,194.03 617.21,198.49 623.06,202.95 628.90,206.92 634.74,210.88 640.59,214.35 648.38,218.31 658.12,221.28 667.86,224.26 677.60,226.24 677.60,186.60" fill="#ff00ff"/>
<line x1="574.8" y1="285.7" x2="578.8" y2="285.7" stroke="#000" stroke-width="1"/>
<text class="k" x="571.6" y="288.5" font-size="8" text-anchor="end" fill="#000" font-weight="normal" font-style="normal">0</text>
<line x1="574.8" y1="265.88" x2="578.8" y2="265.88" stroke="#000" stroke-width="1"/>
<text class="k" x="571.6" y="268.68" font-size="8" text-anchor="end" fill="#000" font-weight="normal" font-style="normal">20</text>
<line x1="574.8" y1="246.06" x2="578.8" y2="246.06" stroke="#000" stroke-width="1"/>
<text class="k" x="571.6" y="248.86" font-size="8" text-anchor="end" fill="#000" font-weight="normal" font-style="normal">40</text>
<line x1="574.8" y1="226.23999999999998" x2="578.8" y2="226.23999999999998" stroke="#000" stroke-width="1"/>
<text class="k" x="571.6" y="229.04" font-size="8" text-anchor="end" fill="#000" font-weight="normal" font-style="normal">60</text>
<line x1="574.8" y1="206.42" x2="578.8" y2="206.42" stroke="#000" stroke-width="1"/>
<text class="k" x="571.6" y="209.22" font-size="8" text-anchor="end" fill="#000" font-weight="normal" font-style="normal">80</text>
<line x1="574.8" y1="186.6" x2="578.8" y2="186.6" stroke="#000" stroke-width="1"/>
<text class="k" x="571.6" y="189.4" font-size="8" text-anchor="end" fill="#000" font-weight="normal" font-style="normal">100</text>
<line x1="580.2" y1="285.7" x2="580.2" y2="289.5" stroke="#000" stroke-width="1"/>
<text class="k" x="580.2" y="300" font-size="7.8" text-anchor="middle" fill="#000" font-weight="normal" font-style="normal">0</text>
<line x1="599.6800000000001" y1="285.7" x2="599.6800000000001" y2="289.5" stroke="#000" stroke-width="1"/>
<text class="k" x="599.6800000000001" y="300" font-size="7.8" text-anchor="middle" fill="#000" font-weight="normal" font-style="normal">10</text>
<line x1="619.1600000000001" y1="285.7" x2="619.1600000000001" y2="289.5" stroke="#000" stroke-width="1"/>
<text class="k" x="619.1600000000001" y="300" font-size="7.8" text-anchor="middle" fill="#000" font-weight="normal" font-style="normal">20</text>
<line x1="638.6400000000001" y1="285.7" x2="638.6400000000001" y2="289.5" stroke="#000" stroke-width="1"/>
<text class="k" x="638.6400000000001" y="300" font-size="7.8" text-anchor="middle" fill="#000" font-weight="normal" font-style="normal">30</text>
<line x1="658.12" y1="285.7" x2="658.12" y2="289.5" stroke="#000" stroke-width="1"/>
<text class="k" x="658.12" y="300" font-size="7.8" text-anchor="middle" fill="#000" font-weight="normal" font-style="normal">40</text>
<line x1="677.6" y1="285.7" x2="677.6" y2="289.5" stroke="#000" stroke-width="1"/>
<text class="k" x="677.6" y="300" font-size="7.8" text-anchor="middle" fill="#000" font-weight="normal" font-style="normal">50</text>
<line x1="580.2" y1="285.7" x2="583" y2="285.7" stroke="#000" stroke-width="1"/>
<text class="k" x="628.9" y="313" font-size="8.4" text-anchor="middle" fill="#000" font-weight="normal" font-style="normal" textLength="48" lengthAdjust="spacingAndGlyphs">Time (hours)</text>
<text transform="translate(551.5,235.8) rotate(-90)" font-size="8.8" fill="#000" text-anchor="middle" textLength="36" lengthAdjust="spacingAndGlyphs">% of cells</text>
<text x="652.2" y="201" font-size="7.8" text-anchor="middle" fill="#222" font-weight="normal" font-style="normal">Dead</text>
<text x="644.8" y="233.8" font-size="7.8" text-anchor="middle" fill="#222" font-weight="normal" font-style="normal" textLength="44" lengthAdjust="spacingAndGlyphs">Non-growing</text>
<text x="644.8" y="243.6" font-size="7.8" text-anchor="middle" fill="#222" font-weight="normal" font-style="normal" textLength="34" lengthAdjust="spacingAndGlyphs">but viable</text>
<text x="607.3" y="271" font-size="7.8" text-anchor="middle" fill="#222" font-weight="normal" font-style="normal" textLength="27.5" lengthAdjust="spacingAndGlyphs">Growing</text>
<rect x="6" y="328.7" width="191" height="428" fill="#000"/>
<rect x="206.5" y="328.7" width="234.5" height="428" fill="#000"/>
<rect x="450" y="328.7" width="234" height="428" fill="#000"/>
<defs>
<filter id="rough" x="-10%" y="-10%" width="120%" height="120%"><feTurbulence type="fractalNoise" baseFrequency="0.25" numOctaves="2" seed="5" result="n"/><feDisplacementMap in="SourceGraphic" in2="n" scale="3.5" xChannelSelector="R" yChannelSelector="G"/><feGaussianBlur stdDeviation="0.9"/></filter>
<filter id="bl07" x="-20%" y="-20%" width="140%" height="140%"><feGaussianBlur stdDeviation="0.7"/></filter>
<filter id="bl15" x="-20%" y="-20%" width="140%" height="140%"><feGaussianBlur stdDeviation="1.5"/></filter>
<filter id="bl3" x="-30%" y="-30%" width="160%" height="160%"><feGaussianBlur stdDeviation="3"/></filter>
<filter id="bl5" x="-30%" y="-30%" width="160%" height="160%"><feGaussianBlur stdDeviation="5"/></filter>
<pattern id="streak" width="2.5" height="10" patternUnits="userSpaceOnUse"><rect width="1" height="10" fill="#000" opacity="0.12"/></pattern>
<linearGradient id="fadeB" x1="0" y1="0" x2="0" y2="1"><stop offset="0" stop-color="#000" stop-opacity="0"/><stop offset="1" stop-color="#000" stop-opacity="0.85"/></linearGradient>
</defs>
<text x="12.2" y="342.7" font-size="12" text-anchor="start" fill="#fff" font-weight="bold" font-style="normal">g</text>
<rect x="18.8" y="346.8" width="56.3" height="117.8" fill="#120010"/>
<clipPath id="cg"><rect x="18.8" y="346.8" width="56.3" height="117.8"/></clipPath>
<g clip-path="url(#cg)">
<radialGradient id="rg16" gradientUnits="userSpaceOnUse" cx="19" cy="409" r="38"><stop offset="0" stop-color="#f400f4"/><stop offset="0.3" stop-color="#c800c8"/><stop offset="0.8" stop-color="#a400a4"/><stop offset="0.93" stop-color="#7a007a"/><stop offset="1" stop-color="#280028"/></radialGradient>
<ellipse cx="19" cy="409" rx="34.5" ry="38" fill="url(#rg16)" filter="url(#rough)"/>
<rect x="18.8" y="346.8" width="56.3" height="117.8" fill="url(#streak)" opacity="0.35"/>
</g>
<path d="M19,353.8 L22,352.8 L25,352.6 L27.5,353.8 L30,356 L33,357.3 L36.5,357.8 L39,358.8 L41,360.5 L44,364 L47.5,367 L50,369.5 L52,372.5 L55,376 L58,379.5 L60.5,383 L62.5,387 L64.5,390.5 L66.5,394 L68.5,397.5 L69.8,401 L69.5,404 L69.8,407 L69,409 L70,411.5 L69.5,414 L68,417 L66,420.5 L64.3,424 L63.3,428 L61.5,431.5 L59,434 L57,436 L56,439 L55.4,442.5 L54.5,446 L52.5,449 L50,451.5 L47,453.5 L44,455.5 L41,457.5 L38,459 L34.5,460.3 L31,461 L27.5,461.8 L24,461.7 L21.5,461 L19,461.6" fill="none" stroke="#22e022" stroke-width="1.8" stroke-linejoin="round"/>
<text x="97.5" y="360.2" font-size="8" text-anchor="middle" fill="#d4d4d4" font-weight="normal" font-style="normal" textLength="46" lengthAdjust="spacingAndGlyphs">z-projection</text>
<text x="98.5" y="372.5" font-size="8" text-anchor="middle" fill="#d4d4d4" font-weight="normal" font-style="normal" textLength="68.3" lengthAdjust="spacingAndGlyphs">~ 16 h-old  colony</text>
<text x="54.2" y="459.8" font-size="6.3" text-anchor="start" fill="#c8c8c8" font-weight="normal" font-style="normal" textLength="21.5" lengthAdjust="spacingAndGlyphs">200 μm</text>
<line x1="54" y1="462.6" x2="72.9" y2="462.6" stroke="#d8d8d8" stroke-width="1.4"/>
<text x="12" y="487" font-size="12.6" text-anchor="start" fill="#fff" font-weight="bold" font-style="normal">h</text>
<text x="148.4" y="469.3" font-size="8" text-anchor="middle" fill="#d4d4d4" font-weight="normal" font-style="normal" textLength="45.3" lengthAdjust="spacingAndGlyphs">z-projection</text>
<text x="149.6" y="481.2" font-size="8" text-anchor="middle" fill="#d4d4d4" font-weight="normal" font-style="normal" textLength="67.4" lengthAdjust="spacingAndGlyphs">~ 38 h-old  colony</text>
<radialGradient id="gm38" gradientUnits="userSpaceOnUse" cx="19" cy="606" r="160" gradientTransform="translate(19 606) scale(1 1.12) translate(-19 -606)"><stop offset="0" stop-color="#ff00ff"/><stop offset="0.07" stop-color="#ea00ea"/><stop offset="0.17" stop-color="#b800b8"/><stop offset="0.3" stop-color="#8a008a"/><stop offset="0.5" stop-color="#4e004e"/><stop offset="0.7" stop-color="#240024"/><stop offset="0.85" stop-color="#0e000e"/><stop offset="1" stop-color="#060006"/></radialGradient>
<rect x="18.8" y="489" width="176" height="237.3" fill="url(#gm38)"/>
<rect x="18.8" y="489" width="176" height="237.3" fill="url(#streak)" opacity="0.25"/>
<path d="M125.5,489 L129,493 L133.6,499.2 L136.5,503 L138,505.5 L140,508.5 L141.6,509.8 L140.6,512.6 L142.3,515.3 L145,518.5 L147.5,521.5 L149.6,524 L151.8,528.5 L154,533 L156.4,538.5 L158.4,543 L159.3,545.5 L158.8,547 L160.2,548.5 L161.8,552.5 L163.2,557 L164.8,562 L166.2,566 L167.2,569.3 L168,574 L169,580 L169.6,586 L170.2,592 L170.2,597 L170.8,602 L170.2,608 L170.4,614 L169.8,620 L169.4,626 L169.2,632 L168.5,639 L167.6,645 L166.8,651 L165.5,657 L164.4,664 L163.2,670 L161.2,676 L159,682 L156.8,688 L154.4,694 L152,699 L149.4,703.5 L146.5,707 L143.6,710.8 L140,714.5 L136.5,717.8 L133,720.5 L130,722.8 L127.6,724.6" fill="none" stroke="#22e422" stroke-width="1.9" stroke-linejoin="round"/>
<text x="168.5" y="717.4" font-size="6.3" text-anchor="start" fill="#c8c8c8" font-weight="normal" font-style="normal" textLength="21" lengthAdjust="spacingAndGlyphs">200 μm</text>
<line x1="168.5" y1="721.2" x2="189" y2="721.2" stroke="#d8d8d8" stroke-width="1.4"/>
<text x="218.6" y="344.8" font-size="12" text-anchor="start" fill="#fff" font-weight="bold" font-style="normal">i</text>
<text x="251.2" y="343.2" font-size="8" text-anchor="start" fill="#d4d4d4" font-weight="normal" font-style="normal" textLength="137.4" lengthAdjust="spacingAndGlyphs">Cross-section of a ~ 16 h-old  colony</text>
<text x="320.1" y="362" font-size="7.4" text-anchor="middle" fill="#fff" font-weight="bold" font-style="normal" textLength="59.7" lengthAdjust="spacingAndGlyphs">GFP fluorescence</text>
<rect x="269" y="393" width="101" height="91" fill="#000300"/>
<linearGradient id="gfpI" gradientUnits="userSpaceOnUse" x1="0" y1="402" x2="0" y2="450"><stop offset="0" stop-color="#26b426"/><stop offset="0.6" stop-color="#1e9a1e"/><stop offset="1" stop-color="#106010"/></linearGradient>
<linearGradient id="gglow" x1="0" y1="0" x2="0" y2="1"><stop offset="0" stop-color="#0a3a0a" stop-opacity="0.9"/><stop offset="1" stop-color="#031003" stop-opacity="0"/></linearGradient>
<rect x="272" y="452" width="96" height="26" fill="url(#gglow)" filter="url(#bl3)" opacity="0.45"/>
<path d="M283.0,449.5C283.5,448.5 285.0,445.4 286.0,443.5C287.0,441.6 287.9,439.9 289.0,438.0C290.1,436.1 291.3,434.0 292.5,432.0C293.7,430.0 294.7,428.1 296.0,426.0C297.3,423.9 298.9,421.5 300.5,419.5C302.1,417.5 304.0,415.8 305.6,414.2C307.2,412.6 308.6,411.3 310.0,410.2C311.4,409.1 312.7,408.1 314.0,407.3C315.3,406.5 316.7,405.8 318.0,405.4C319.3,405.0 320.7,404.7 322.0,404.7C323.3,404.7 324.7,405.0 326.0,405.4C327.3,405.8 328.7,406.5 330.0,407.3C331.3,408.1 332.6,409.1 334.0,410.2C335.4,411.3 336.9,412.6 338.5,414.2C340.1,415.8 341.9,417.5 343.5,419.5C345.1,421.5 346.7,423.9 348.0,426.0C349.3,428.1 350.3,430.0 351.5,432.0C352.7,434.0 353.9,436.1 355.0,438.0C356.1,439.9 357.0,441.6 358.0,443.5C359.0,445.4 360.5,448.5 361.0,449.5" fill="none" stroke="#0c3e0c" stroke-width="12" filter="url(#bl15)"/>
<path d="M283.0,449.5C283.5,448.5 285.0,445.4 286.0,443.5C287.0,441.6 287.9,439.9 289.0,438.0C290.1,436.1 291.3,434.0 292.5,432.0C293.7,430.0 294.7,428.1 296.0,426.0C297.3,423.9 298.9,421.5 300.5,419.5C302.1,417.5 304.0,415.8 305.6,414.2C307.2,412.6 308.6,411.3 310.0,410.2C311.4,409.1 312.7,408.1 314.0,407.3C315.3,406.5 316.7,405.8 318.0,405.4C319.3,405.0 320.7,404.7 322.0,404.7C323.3,404.7 324.7,405.0 326.0,405.4C327.3,405.8 328.7,406.5 330.0,407.3C331.3,408.1 332.6,409.1 334.0,410.2C335.4,411.3 336.9,412.6 338.5,414.2C340.1,415.8 341.9,417.5 343.5,419.5C345.1,421.5 346.7,423.9 348.0,426.0C349.3,428.1 350.3,430.0 351.5,432.0C352.7,434.0 353.9,436.1 355.0,438.0C356.1,439.9 357.0,441.6 358.0,443.5C359.0,445.4 360.5,448.5 361.0,449.5" fill="none" stroke="url(#gfpI)" stroke-width="4.4" filter="url(#bl07)"/>
<text x="351.2" y="391.5" font-size="6.4" text-anchor="start" fill="#c8c8c8" font-weight="normal" font-style="normal" textLength="22" lengthAdjust="spacingAndGlyphs">200 μm</text>
<path d="M353.4,395.4L369.5,395.4L369.5,408.7" fill="none" stroke="#d0d0d0" stroke-width="1.2"/>
<text transform="translate(373.1,395.7) rotate(90)" font-size="6.6" fill="#c8c8c8" textLength="17.5" lengthAdjust="spacingAndGlyphs">50 μm</text>
<line x1="264.3" y1="451.8" x2="377.7" y2="451.8" stroke="#e8e8e8" stroke-width="1.2" stroke-dasharray="3 1.1"/>
<text x="320.7" y="459.3" font-size="7.6" text-anchor="middle" fill="#d4d4d4" font-weight="normal" font-style="normal" textLength="41" lengthAdjust="spacingAndGlyphs">Agar surface</text>
<text x="319.5" y="490.3" font-size="7.4" text-anchor="middle" fill="#fff" font-weight="bold" font-style="normal" textLength="52" lengthAdjust="spacingAndGlyphs">PI fluorescence</text>
<rect x="269" y="521.9" width="102.3" height="89.4" fill="#050004"/>
<clipPath id="cpi1"><rect x="269" y="521.9" width="102.3" height="89.4"/></clipPath>
<g clip-path="url(#cpi1)">
<g filter="url(#bl15)"><path d="M289.5,580.0C289.6,579.3 289.4,578.0 290.0,576.0C290.6,574.0 291.9,570.7 293.0,568.0C294.1,565.3 295.1,562.7 296.5,560.0C297.9,557.3 299.9,554.5 301.5,552.0C303.1,549.5 304.5,547.5 306.0,545.0C307.5,542.5 309.0,539.2 310.5,537.0C312.0,534.8 313.2,533.3 315.0,532.0C316.8,530.7 319.0,529.3 321.0,529.3C323.0,529.3 325.2,530.7 327.0,532.0C328.8,533.3 330.0,534.8 331.5,537.0C333.0,539.2 334.5,542.5 336.0,545.0C337.5,547.5 338.9,549.5 340.5,552.0C342.1,554.5 344.1,557.3 345.5,560.0C346.9,562.7 347.9,565.3 349.0,568.0C350.1,570.7 351.4,574.0 352.0,576.0C352.6,578.0 352.4,579.3 352.5,580.0 Z" fill="#860c86"/></g>
<g filter="url(#bl3)"><ellipse cx="321" cy="538" rx="9" ry="7" fill="#b014b0"/></g>
<g filter="url(#bl3)"><path d="M321,556 L303,582 L339,582Z" fill="#3a003a"/></g>
<rect x="269" y="566" width="102.3" height="15" fill="url(#fadeB)"/>
<rect x="269" y="521.9" width="102.3" height="60" fill="url(#streak)"/>
</g>
<text x="351.2" y="520.8" font-size="6.4" text-anchor="start" fill="#c8c8c8" font-weight="normal" font-style="normal" textLength="22" lengthAdjust="spacingAndGlyphs">200 μm</text>
<path d="M353.4,523.7L369.5,523.7L369.5,538.3" fill="none" stroke="#d0d0d0" stroke-width="1.2"/>
<text transform="translate(373.1,524.0) rotate(90)" font-size="6.6" fill="#c8c8c8" textLength="17.5" lengthAdjust="spacingAndGlyphs">50 μm</text>
<line x1="264.3" y1="580.8" x2="377.7" y2="580.8" stroke="#e8e8e8" stroke-width="1.2" stroke-dasharray="3 1.1"/>
<text x="320.7" y="589.2" font-size="7.6" text-anchor="middle" fill="#d4d4d4" font-weight="normal" font-style="normal" textLength="41" lengthAdjust="spacingAndGlyphs">Agar surface</text>
<text x="320.1" y="629" font-size="7.4" text-anchor="middle" fill="#fff" font-weight="bold" font-style="normal" textLength="116.5" lengthAdjust="spacingAndGlyphs">PI fluorescence with GFP outlined</text>
<rect x="269" y="658.5" width="102.3" height="91" fill="#050004"/>
<clipPath id="cpi2"><rect x="269" y="658.5" width="102.3" height="91"/></clipPath>
<g clip-path="url(#cpi2)">
<g filter="url(#bl15)"><path d="M284,713 C290,700 298,687 306,677 C312,670 332,670 338,677 C346,687 354,700 361,715 Z" fill="#380038"/></g>
<g filter="url(#bl15)"><path d="M288,713 L293,706 L300,695 L306,687 L311,682 L316,679.5 L322,678.5 L328,679.5 L333,682 L338,688 L345,698 L351,707 L357,714 L345,714 L339,706 L332,699 L322,697 L312,699 L305,706 L299,713 Z" fill="#8a0c8a"/></g>
<g filter="url(#bl3)"><ellipse cx="322" cy="684" rx="9" ry="5" fill="#b818b8"/><path d="M322,697 L303,718 L341,718Z" fill="#200020"/></g>
<rect x="269" y="703" width="102.3" height="15" fill="url(#fadeB)"/>
<rect x="269" y="658.5" width="102.3" height="60" fill="url(#streak)"/>
</g>
<path d="M283.4,711.2 C285.5,704 289,698 292.8,692.9 C297,686 301,681 305.6,676.5 C311,671 316,667.6 322,667.4 C328,667.6 334,670 338.5,673.8 C343,679 347,686 351.2,692.9 C355,699 359,706 362.2,713.2 C361.5,715.3 359.5,715.4 357.6,714.8 C354,711 350,706 345.8,702 C341,693 337,686 333,682 C329,679 326,678 322,678 C318,678 314,680 311.1,682 C306,688 303,691 300.1,694.7 C297,699 295,703 292.8,706.6 C290.5,709.5 288.5,712 286.5,713 C285,713.5 283.5,713 283.4,711.2 Z" fill="none" stroke="#26e026" stroke-width="1.2"/>
<path d="M288.5,710.5 C290,708.5 291.5,707.5 292.8,706.6 C295,703 297,699 300.1,694.7 C303,691 306,688 311.1,682 C314,680 318,678 322,678 C326,678 329,679 333,682 C337,686 341,693 345.8,702 C350,706 353.5,709.5 356.7,713" fill="none" stroke="#b4eeb4" stroke-width="1"/>
<text x="351.2" y="657.5" font-size="6.4" text-anchor="start" fill="#c8c8c8" font-weight="normal" font-style="normal" textLength="22" lengthAdjust="spacingAndGlyphs">200 μm</text>
<path d="M353.4,661L369.5,661L369.5,674.7" fill="none" stroke="#d0d0d0" stroke-width="1.2"/>
<text transform="translate(373.1,661.3) rotate(90)" font-size="6.6" fill="#c8c8c8" textLength="17.5" lengthAdjust="spacingAndGlyphs">50 μm</text>
<line x1="264.3" y1="717.6" x2="377.7" y2="717.6" stroke="#e8e8e8" stroke-width="1.2" stroke-dasharray="3 1.1"/>
<text x="320.7" y="727.3" font-size="7.6" text-anchor="middle" fill="#d4d4d4" font-weight="normal" font-style="normal" textLength="41" lengthAdjust="spacingAndGlyphs">Agar surface</text>
<text x="463" y="344.5" font-size="12" text-anchor="start" fill="#fff" font-weight="bold" font-style="normal">j</text>
<text x="495.4" y="343.3" font-size="8" text-anchor="start" fill="#d4d4d4" font-weight="normal" font-style="normal" textLength="137.7" lengthAdjust="spacingAndGlyphs">Cross-section of a ~ 38 h-old  colony</text>
<text x="643.9" y="336.6" font-size="6.4" text-anchor="start" fill="#c8c8c8" font-weight="normal" font-style="normal" textLength="22" lengthAdjust="spacingAndGlyphs">200 μm</text>
<path d="M646.7,338.6L662.5,338.6L662.5,353.6" fill="none" stroke="#d0d0d0" stroke-width="1.2"/>
<text transform="translate(666.1,338.90000000000003) rotate(90)" font-size="6.6" fill="#c8c8c8" textLength="17.5" lengthAdjust="spacingAndGlyphs">50 μm</text>
<text x="568" y="361.8" font-size="7.4" text-anchor="middle" fill="#fff" font-weight="bold" font-style="normal" textLength="59.7" lengthAdjust="spacingAndGlyphs">GFP fluorescence</text>
<rect x="463" y="366" width="204" height="98.5" fill="#000300"/>
<clipPath id="cj1"><rect x="463" y="366" width="204" height="98.5"/></clipPath>
<g clip-path="url(#cj1)">
<path d="M455.0,441.0C456.6,440.1 461.3,437.9 464.6,435.6C467.9,433.4 471.2,430.2 475.0,427.5C478.8,424.8 482.4,422.4 487.1,419.6C491.8,416.8 497.6,413.4 503.0,410.5C508.4,407.6 513.9,404.8 519.2,402.0C524.5,399.2 529.6,396.6 535.0,394.0C540.4,391.4 547.5,388.2 551.3,386.6C555.1,385.0 555.6,385.0 558.0,384.5C560.4,384.0 563.1,383.4 565.8,383.5C568.5,383.6 571.1,384.3 574.0,385.0C576.9,385.7 579.2,386.0 583.4,387.5C587.6,389.0 593.6,391.7 599.0,394.0C604.4,396.3 610.1,398.4 615.6,401.2C621.1,403.9 626.6,407.2 632.0,410.5C637.4,413.8 643.9,418.4 647.7,421.2C651.5,424.0 653.0,425.2 655.0,427.5C657.0,429.8 658.7,432.6 660.0,434.8C661.3,437.1 662.5,440.0 663.0,441.0" fill="none" stroke="#0a2e0a" stroke-width="28" filter="url(#bl3)"/>
<path d="M455.0,440.0C456.6,439.1 461.3,436.9 464.6,434.6C467.9,432.4 471.2,429.2 475.0,426.5C478.8,423.8 482.4,421.4 487.1,418.6C491.8,415.8 497.6,412.4 503.0,409.5C508.4,406.6 513.9,403.8 519.2,401.0C524.5,398.2 529.6,395.6 535.0,393.0C540.4,390.4 547.5,387.2 551.3,385.6C555.1,384.0 555.6,384.0 558.0,383.5C560.4,383.0 563.1,382.4 565.8,382.5C568.5,382.6 571.1,383.3 574.0,384.0C576.9,384.7 579.2,385.0 583.4,386.5C587.6,388.0 593.6,390.7 599.0,393.0C604.4,395.3 610.1,397.4 615.6,400.2C621.1,402.9 626.6,406.2 632.0,409.5C637.4,412.8 643.9,417.4 647.7,420.2C651.5,423.0 653.0,424.2 655.0,426.5C657.0,428.8 658.7,431.6 660.0,433.8C661.3,436.1 662.5,439.0 663.0,440.0" fill="none" stroke="#137a13" stroke-width="17" filter="url(#bl15)"/>
<path d="M455.0,436.5C456.6,435.6 461.3,433.4 464.6,431.1C467.9,428.9 471.2,425.7 475.0,423.0C478.8,420.3 482.4,417.9 487.1,415.1C491.8,412.3 497.6,408.9 503.0,406.0C508.4,403.1 513.9,400.2 519.2,397.5C524.5,394.8 529.6,392.1 535.0,389.5C540.4,386.9 547.5,383.7 551.3,382.1C555.1,380.5 555.6,380.5 558.0,380.0C560.4,379.5 563.1,378.9 565.8,379.0C568.5,379.1 571.1,379.8 574.0,380.5C576.9,381.2 579.2,381.5 583.4,383.0C587.6,384.5 593.6,387.2 599.0,389.5C604.4,391.8 610.1,393.9 615.6,396.7C621.1,399.4 626.6,402.7 632.0,406.0C637.4,409.3 643.9,413.9 647.7,416.7C651.5,419.5 653.0,420.7 655.0,423.0C657.0,425.3 658.7,428.1 660.0,430.3C661.3,432.6 662.5,435.5 663.0,436.5" fill="none" stroke="#20b020" stroke-width="9" filter="url(#bl15)"/>
<path d="M455.0,435.0C456.6,434.1 461.3,431.9 464.6,429.6C467.9,427.4 471.2,424.2 475.0,421.5C478.8,418.8 482.4,416.4 487.1,413.6C491.8,410.8 497.6,407.4 503.0,404.5C508.4,401.6 513.9,398.8 519.2,396.0C524.5,393.2 529.6,390.6 535.0,388.0C540.4,385.4 547.5,382.2 551.3,380.6C555.1,379.0 555.6,379.0 558.0,378.5C560.4,378.0 563.1,377.4 565.8,377.5C568.5,377.6 571.1,378.3 574.0,379.0C576.9,379.7 579.2,380.0 583.4,381.5C587.6,383.0 593.6,385.7 599.0,388.0C604.4,390.3 610.1,392.4 615.6,395.2C621.1,397.9 626.6,401.2 632.0,404.5C637.4,407.8 643.9,412.4 647.7,415.2C651.5,418.0 653.0,419.2 655.0,421.5C657.0,423.8 658.7,426.6 660.0,428.8C661.3,431.1 662.5,434.0 663.0,435.0" fill="none" stroke="#2cc42c" stroke-width="4" filter="url(#bl15)"/>
<rect x="463" y="366" width="204" height="98.5" fill="url(#streak)" opacity="0.5"/>
</g>
<rect x="463" y="452.5" width="204" height="12" fill="url(#gglow)" filter="url(#bl15)" opacity="0.45"/>
<line x1="462" y1="452.2" x2="669" y2="452.2" stroke="#e8e8e8" stroke-width="1.2" stroke-dasharray="3 1.1"/>
<text x="568.8" y="459.6" font-size="7.6" text-anchor="middle" fill="#d4d4d4" font-weight="normal" font-style="normal" textLength="41" lengthAdjust="spacingAndGlyphs">Agar surface</text>
<text x="643.9" y="465.4" font-size="6.4" text-anchor="start" fill="#c8c8c8" font-weight="normal" font-style="normal" textLength="22" lengthAdjust="spacingAndGlyphs">200 μm</text>
<path d="M646.7,468L662.5,468L662.5,482.4" fill="none" stroke="#d0d0d0" stroke-width="1.2"/>
<text transform="translate(666.1,468.3) rotate(90)" font-size="6.6" fill="#c8c8c8" textLength="17.5" lengthAdjust="spacingAndGlyphs">50 μm</text>
<text x="568" y="490.6" font-size="7.4" text-anchor="middle" fill="#fff" font-weight="bold" font-style="normal" textLength="52" lengthAdjust="spacingAndGlyphs">PI fluorescence</text>
<rect x="463" y="495" width="204" height="120" fill="#050004"/>
<clipPath id="cj2"><rect x="463" y="495" width="204" height="120"/></clipPath>
<g clip-path="url(#cj2)">
<g filter="url(#bl3)">
<polygon points="455.0,560.0 464.0,555.5 487.0,544.0 519.0,528.0 551.0,512.0 566.0,505.7 583.0,510.5 615.6,525.0 647.7,544.0 663.7,557.0 672.0,562.0 672,579.5 455,579.5" fill="#2a002a"/>
<polygon points="455.0,563.5 464.0,559.0 487.0,547.5 519.0,531.5 551.0,515.5 566.0,509.2 583.0,514.0 615.6,528.5 647.7,547.5 663.7,560.5 672.0,565.5 672,579.5 455,579.5" fill="#560056"/>
<polygon points="455.0,567.0 464.0,562.5 487.0,551.0 519.0,535.0 551.0,519.0 566.0,512.7 583.0,517.5 615.6,532.0 647.7,551.0 663.7,564.0 672.0,569.0 672,579.5 455,579.5" fill="#7e007e"/>
<polygon points="455.0,571.0 464.0,566.5 487.0,555.0 519.0,539.0 551.0,523.0 566.0,516.7 583.0,521.5 615.6,536.0 647.7,555.0 663.7,568.0 672.0,573.0 672,579.5 455,579.5" fill="#940094"/>
<polygon points="455.0,578.0 464.0,573.5 487.0,562.0 519.0,546.0 551.0,530.0 566.0,523.7 583.0,528.5 615.6,543.0 647.7,562.0 663.7,575.0 672.0,580.0 672,579.5 455,579.5" fill="#8c008c"/>
<polygon points="455.0,586.0 464.0,581.5 487.0,570.0 519.0,554.0 551.0,538.0 566.0,531.7 583.0,536.5 615.6,551.0 647.7,570.0 663.7,583.0 672.0,588.0 672,579.5 455,579.5" fill="#760076"/>
</g>
<g filter="url(#bl5)"><ellipse cx="566" cy="533" rx="40" ry="14" fill="#b400b4"/><ellipse cx="566" cy="529" rx="16" ry="8" fill="#d800d8"/></g>
<rect x="455" y="545" width="220" height="36" fill="url(#fadeB)"/>
<rect x="463" y="495" width="204" height="85" fill="url(#streak)" opacity="0.5"/>
</g>
<line x1="462" y1="581.2" x2="669" y2="581.2" stroke="#e8e8e8" stroke-width="1.2" stroke-dasharray="3 1.1"/>
<text x="568.8" y="589.4" font-size="7.6" text-anchor="middle" fill="#d4d4d4" font-weight="normal" font-style="normal" textLength="41" lengthAdjust="spacingAndGlyphs">Agar surface</text>
<text x="643.9" y="602.5" font-size="6.4" text-anchor="start" fill="#c8c8c8" font-weight="normal" font-style="normal" textLength="22" lengthAdjust="spacingAndGlyphs">200 μm</text>
<path d="M647.4,605.1L663.5,605.1L663.5,620.1" fill="none" stroke="#d0d0d0" stroke-width="1.2"/>
<text transform="translate(667.1,605.4) rotate(90)" font-size="6.6" fill="#c8c8c8" textLength="17.5" lengthAdjust="spacingAndGlyphs">50 μm</text>
<text x="568.6" y="629" font-size="7.4" text-anchor="middle" fill="#fff" font-weight="bold" font-style="normal" textLength="116.2" lengthAdjust="spacingAndGlyphs">PI fluorescence with GFP outlined</text>
<rect x="463" y="632" width="204" height="117" fill="#050004"/>
<clipPath id="cj3"><rect x="463" y="632" width="204" height="117"/></clipPath>
<g clip-path="url(#cj3)">
<g filter="url(#bl3)">
<polygon points="458.0,697.0 465.3,693.3 487.1,682.0 519.2,662.7 541.7,654.7 551.3,648.3 565.8,645.1 577.0,646.0 589.9,654.7 615.6,669.2 647.7,685.2 660.5,694.9 668.0,699.0 668,716.5 458,716.5" fill="#1a001a"/>
<polygon points="458.0,702.0 465.3,698.3 487.1,687.0 519.2,667.7 541.7,659.7 551.3,653.3 565.8,650.1 577.0,651.0 589.9,659.7 615.6,674.2 647.7,690.2 660.5,699.9 668.0,704.0 668,716.5 458,716.5" fill="#300030"/>
<polygon points="458.0,706.0 465.3,702.3 487.1,691.0 519.2,671.7 541.7,663.7 551.3,657.3 565.8,654.1 577.0,655.0 589.9,663.7 615.6,678.2 647.7,694.2 660.5,703.9 668.0,708.0 668,716.5 458,716.5" fill="#5a005a"/>
<polygon points="458.0,710.0 465.3,706.3 487.1,695.0 519.2,675.7 541.7,667.7 551.3,661.3 565.8,658.1 577.0,659.0 589.9,667.7 615.6,682.2 647.7,698.2 660.5,707.9 668.0,712.0 668,716.5 458,716.5" fill="#740074"/>
<polygon points="458.0,715.0 465.3,711.3 487.1,700.0 519.2,680.7 541.7,672.7 551.3,666.3 565.8,663.1 577.0,664.0 589.9,672.7 615.6,687.2 647.7,703.2 660.5,712.9 668.0,717.0 668,716.5 458,716.5" fill="#840084"/>
</g>
<g filter="url(#bl5)"><ellipse cx="566" cy="670" rx="32" ry="11" fill="#c000c0"/><ellipse cx="566" cy="666" rx="14" ry="7" fill="#e800e8"/></g>
<rect x="455" y="678" width="220" height="39" fill="url(#fadeB)"/>
<rect x="463" y="632" width="204" height="85" fill="url(#streak)" opacity="0.5"/>
</g>
<path d="M465.3,702.3 C472,694 479,686 487.1,678.2 C497,670 508,661 519.2,654.1 C530,648 540,644 551.3,641.2 C556,639.5 561,638 567.4,638 C573,638.3 578,640 583.4,642.2 C594,646 604,651 615.6,657.3 C626,664 637,672 647.7,681.4 C655,688 660,693 663.7,699 C664.2,702 662.5,704.2 660.5,703.9 C656,701 652,698 647.7,694.2 C637,688 626,683 615.6,678.2 C607,673 598,668 589.9,663.7 C585,660 581,656 577,655 C573,654 569,654 565.8,654.1 C561,654.5 556,655.5 551.3,657.3 C548,660 545,662 541.7,663.7 C534,666 526,669 519.2,671.7 C508,678 497,685 487.1,691 C480,695 472,699 467,703 C465.5,704 464.5,703.5 465.3,702.3Z" fill="none" stroke="#2cf02c" stroke-width="1.8"/>
<path d="M470,701 C476,697 481,694 487.1,691 C497,685 508,678 519.2,671.7 C526,669 534,666 541.7,663.7 C545,662 548,660 551.3,657.3 C556,655.5 561,654.5 565.8,654.1 C569,654 573,654 577,655 C581,656 585,660 589.9,663.7 C598,668 607,673 615.6,678.2 C626,683 637,688 647.7,694.2 C652,698 656,701 659,703" fill="none" stroke="#a0f0a0" stroke-width="1.1"/>
<line x1="462" y1="717.3" x2="669" y2="717.3" stroke="#e8e8e8" stroke-width="1.2" stroke-dasharray="3 1.1"/>
<text x="569" y="727" font-size="7.6" text-anchor="middle" fill="#d4d4d4" font-weight="normal" font-style="normal" textLength="41" lengthAdjust="spacingAndGlyphs">Agar surface</text>
</svg></body></html>
